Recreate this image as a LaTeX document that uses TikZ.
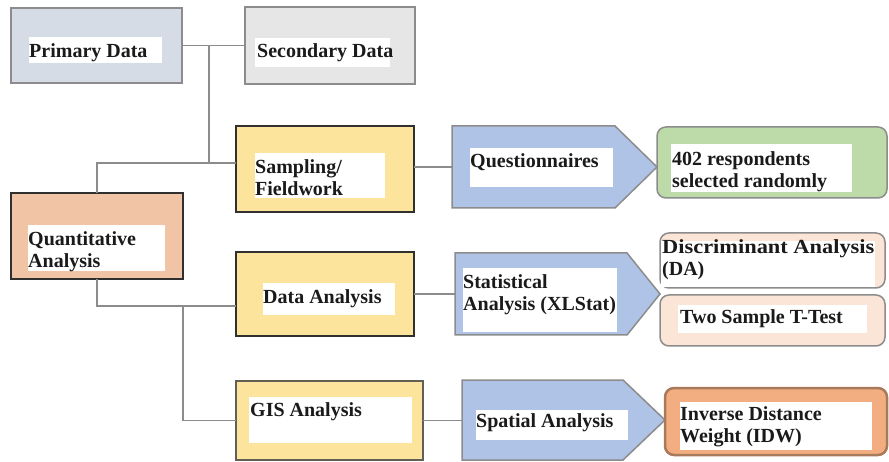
\documentclass[tikz,border=0pt]{standalone}
\usepackage{fontspec}
\setmainfont{Liberation Serif}
\usetikzlibrary{fit}
\definecolor{cPrim}{HTML}{D6DCE5}
\definecolor{cSec}{HTML}{E7E6E6}
\definecolor{cYel}{HTML}{FCE49C}
\definecolor{cQuant}{HTML}{F2C4A6}
\definecolor{cBlue}{HTML}{AFC3E6}
\definecolor{cGreen}{HTML}{BDDAA9}
\definecolor{cPeach}{HTML}{FBE5D6}
\definecolor{cOrange}{HTML}{F2AE80}
\definecolor{cLine}{HTML}{8C8C8C}
\definecolor{cDark}{HTML}{303030}
\definecolor{cTxt}{HTML}{1A1A1A}
\begin{document}
\begin{tikzpicture}[x=1pt,y=-1pt,
  box/.style={inner sep=0pt,outer sep=0pt},
  lightbox/.style={box,draw=cLine,line width=2pt},
  darkbox/.style={box,draw=cDark,line width=2.5pt},
  roundbox/.style={box,draw=cLine,line width=1.5pt,rounded corners=9pt},
  arrowbox/.style={draw=cLine,line width=1.5pt,fill=cBlue},
  wb/.style={fill=white},
  lbl/.style={font=\bfseries\fontsize{20}{22}\selectfont,align=left,inner sep=0pt,anchor=north west,text=cTxt},
  conn/.style={draw=cLine,line width=1.5pt}]
\useasboundingbox (0,0) rectangle (889,462);

% boxes
\node[lightbox,fill=cPrim,fit={(11,8) (182,83)}] (prim) {};
\node[lightbox,fill=cSec,fit={(245,7) (415,84)}] (sec) {};
\node[darkbox,fill=cYel,fit={(236,126) (414,212)}] (samp) {};
\node[darkbox,fill=cQuant,fit={(11,193) (183,279)}] (quant) {};
\node[darkbox,fill=cYel,fit={(236,252) (414,336)}] (data) {};
\node[box,draw=cLine!80!cYel!60!black,line width=2pt,fill=cYel,fit={(236,381) (423,460)}] (gis) {};

% arrow shapes
\node[box,fit={(452,126) (657,208)}] (ques) {};
\draw[arrowbox] (ques.north west) -- ([xshift=-42pt]ques.north east) -- (ques.east) -- ([xshift=-42pt]ques.south east) -- (ques.south west) -- cycle;
\node[box,fit={(455,253) (660,335)}] (stat) {};
\draw[arrowbox] (stat.north west) -- ([xshift=-33pt]stat.north east) -- (stat.east) -- ([xshift=-33pt]stat.south east) -- (stat.south west) -- cycle;
\node[box,fit={(462,380) (665,460)}] (spat) {};
\draw[arrowbox] (spat.north west) -- ([xshift=-42pt]spat.north east) -- (spat.east) -- ([xshift=-42pt]spat.south east) -- (spat.south west) -- cycle;

% rounded boxes
\node[roundbox,fill=cGreen,fit={(657,127) (887,198)}] (resp) {};
\node[roundbox,fill=cPeach,fit={(660,233) (885,288)}] (disc) {};
\node[roundbox,fill=cPeach,fit={(660,295) (885,346)}] (ttest) {};
\node[roundbox,draw=cOrange!70!black,line width=2.5pt,fill=cOrange,fit={(665,388) (887,455)}] (idw) {};

% white text panels
\fill[wb] (29,37) rectangle (162,63);
\fill[wb] (255,38) rectangle (390,67);
\fill[wb] (255,153) rectangle (385,198);
\fill[wb] (28,225) rectangle (165,271);
\fill[wb] (263,283) rectangle (395,315);
\fill[wb] (249,397) rectangle (412,443);
\fill[wb] (470,148) rectangle (613,187);
\fill[wb] (671,144) rectangle (852,192);
\fill[wb] (463,268) rectangle (617,332);
\fill[wb] (661,241) rectangle (875,287);
\fill[wb] (678,305) rectangle (867,333);
\fill[wb] (476,410) rectangle (628,440);
\fill[wb] (680,402) rectangle (872,450);

% labels
\node[lbl] (tprim) at (29,43.4) {Primary Data};
\node[lbl] (tsec) at (257,43.4) {Secondary Data};
\node[lbl] (tsamp) at (255,159.4) {Sampling/\\Fieldwork};
\node[lbl] (tquant) at (28,231.9) {Quantitative\\Analysis};
\node[lbl] (tdata) at (263,289.4) {Data Analysis};
\node[lbl] (tgis) at (250,402.4) {GIS Analysis};
\node[lbl] (tques) at (470,153.4) {Questionnaires};
\node[lbl] (tresp) at (672,151.4) {402 respondents\\selected randomly};
\node[lbl] (tstat) at (463,274.4) {Statistical\\Analysis (XLStat)};
\node[lbl] (tdisc) at (662,239.4) {\scalebox{1.12}[1]{Discriminant Analysis}\\(DA)};
\node[lbl] (tttest) at (680,309.4) {Two Sample T-Test};
\node[lbl] (tspat) at (476,413.4) {Spatial Analysis};
\node[lbl] (tidw) at (680,406.4) {Inverse Distance\\Weight (IDW)};

% connectors
\coordinate (busA) at (209,163);
\coordinate (busB) at (183,306);
\draw[conn] (prim.east) -- (sec.west);
\draw[conn] (prim.east -| busA) -- (busA);
\draw[conn] (quant.north) |- (samp.west |- busA);
\draw[conn] (quant.south) |- (data.west |- busB);
\draw[conn] (busB) |- (gis.west);
\draw[conn] (samp.east |- ques.west) -- (ques.west);
\draw[conn] (data.east |- stat.west) -- (stat.west);
\draw[conn] (gis.east) -- (spat.west |- gis.east);
\end{tikzpicture}
\end{document}
